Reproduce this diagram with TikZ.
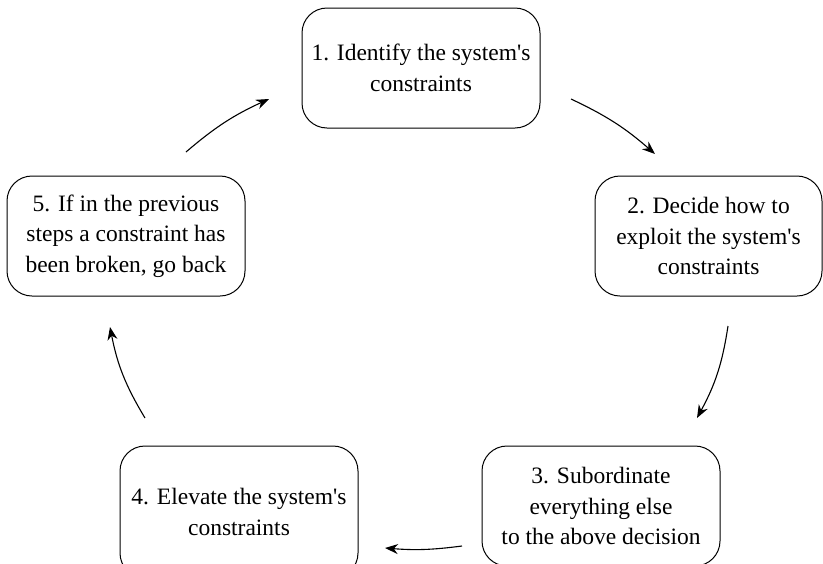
\documentclass[tikz,border=0pt]{standalone}
\usepackage{fontspec}
\setmainfont{Liberation Serif}[Ligatures=TeXOff]
\usetikzlibrary{arrows.meta}
\begin{document}
\begin{tikzpicture}[x=1pt,y=-1pt,
  stepbox/.style={draw, line width=1pt, rounded corners=25pt,
    minimum width=238pt, minimum height=120pt, align=center,
    font=\fontsize{23.5}{30.5}\selectfont, inner sep=0pt},
  flow/.style={-{Stealth[length=13pt,width=10pt]}, line width=1.1pt}]
\useasboundingbox (0,0) rectangle (823,563);

% the five steps of the cycle
\node[stepbox] (s1) at (421,68) {1. Identify the system's\\constraints};
\node[stepbox, minimum width=227pt] (s2) at (708.5,236) {2. Decide how to\\exploit the system's\\constraints};
\node[stepbox] (s3) at (601,506) {3. Subordinate\\everything else\\to the above decision};
\node[stepbox, minimum height=132pt] (s4) at (239,512) {4. Elevate the system's\\constraints};
\node[stepbox] (s5) at (126,236) {5. If in the previous\\steps a constraint has\\been broken, go back};

% arrow end points between the boxes
\coordinate (a1s) at (571,99);  \coordinate (a1e) at (655,154);
\coordinate (a2s) at (728,326); \coordinate (a2e) at (697,418);
\coordinate (a3s) at (462,546); \coordinate (a3e) at (385,548);
\coordinate (a4s) at (145,418); \coordinate (a4e) at (110,327);
\coordinate (a5s) at (186,152); \coordinate (a5e) at (269,99);

\draw[flow] (a1s) to[bend left=8] (a1e);
\draw[flow] (a2s) to[bend left=10] (a2e);
\draw[flow] (a3s) to[bend left=6] (a3e);
\draw[flow] (a4s) to[bend left=10] (a4e);
\draw[flow] (a5s) to[bend left=8] (a5e);
\end{tikzpicture}
\end{document}
